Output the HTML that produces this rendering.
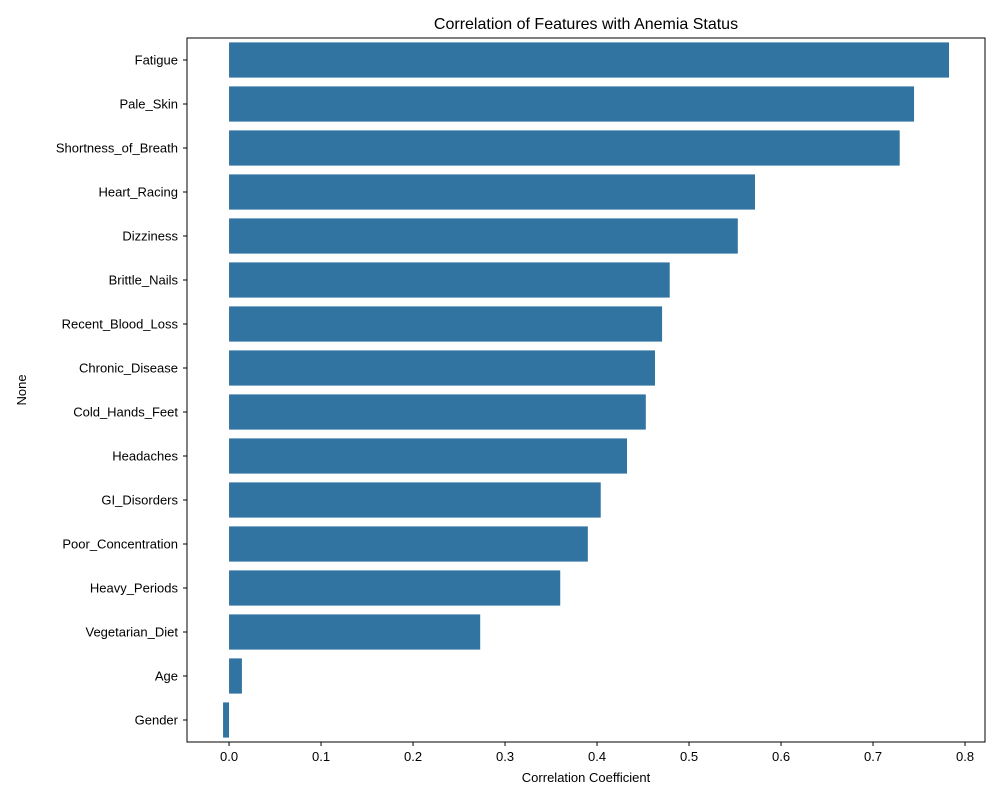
<!DOCTYPE html>
<html><head><meta charset="utf-8"><style>
body{margin:0;background:#fff;}
svg text{font-family:"Liberation Sans","DejaVu Sans",sans-serif;fill:#000;}
</style></head><body>
<svg id="chart" width="1000" height="800" xmlns="http://www.w3.org/2000/svg">
<rect width="1000" height="800" fill="#fff"/>
<text x="586" y="29" font-size="16" text-anchor="middle">Correlation of Features with Anemia Status</text>
<g id="bars"></g>
<g id="axes"></g>
<text x="586" y="782" font-size="13" text-anchor="middle">Correlation Coefficient</text>
<text transform="translate(26,390) rotate(-90)" font-size="13" text-anchor="middle">None</text>
</svg>
<script>
const categories=["Fatigue","Pale_Skin","Shortness_of_Breath","Heart_Racing","Dizziness","Brittle_Nails","Recent_Blood_Loss","Chronic_Disease","Cold_Hands_Feet","Headaches","GI_Disorders","Poor_Concentration","Heavy_Periods","Vegetarian_Diet","Age","Gender"];
const values=[0.7826,0.7446,0.729,0.5717,0.553,0.479,0.4707,0.463,0.453,0.4326,0.404,0.390,0.360,0.273,0.014,-0.0065];
const xTicks=[0,0.1,0.2,0.3,0.4,0.5,0.6,0.7,0.8];
const xTickLabels=["0.0","0.1","0.2","0.3","0.4","0.5","0.6","0.7","0.8"];

const L=187,R=985,T=38,B=742;
const xmin=-0.0457,xmax=0.8217;
const x=v=>L+(v-xmin)/(xmax-xmin)*(R-L);
const band=(B-T)/categories.length;
const y=i=>T+band*i;
const NS="http://www.w3.org/2000/svg";
const bars=document.getElementById('bars'),axes=document.getElementById('axes');
function mk(tag,attrs,parent){const e=document.createElementNS(NS,tag);for(const k in attrs)e.setAttribute(k,attrs[k]);parent.appendChild(e);return e;}
categories.forEach((c,i)=>{
  const v=values[i];
  const r=mk('rect',{x:Math.min(x(0),x(v)),y:y(i)+band*0.1,width:Math.abs(x(v)-x(0)),height:band*0.8,fill:'#3274a1'},bars);
  
  
  const yc=y(i)+band/2;
  mk('line',{x1:L-4,x2:L,y1:yc,y2:yc,stroke:'#000','stroke-width':1},axes);
  const t=mk('text',{x:L-9,y:yc+4.5,'font-size':13,'text-anchor':'end'},axes);
  t.textContent=c;
  
  
});
xTicks.forEach((v,i)=>{
  mk('line',{x1:x(v),x2:x(v),y1:B,y2:B+4,stroke:'#000','stroke-width':1},axes);
  const t=mk('text',{x:x(v),y:B+19,'font-size':13,'text-anchor':'middle'},axes);
  t.textContent=xTickLabels[i];
  
  
});
const frame=mk('rect',{x:L,y:T,width:R-L,height:B-T,fill:'none',stroke:'#000','stroke-width':1},axes);


</script>
</body></html>
